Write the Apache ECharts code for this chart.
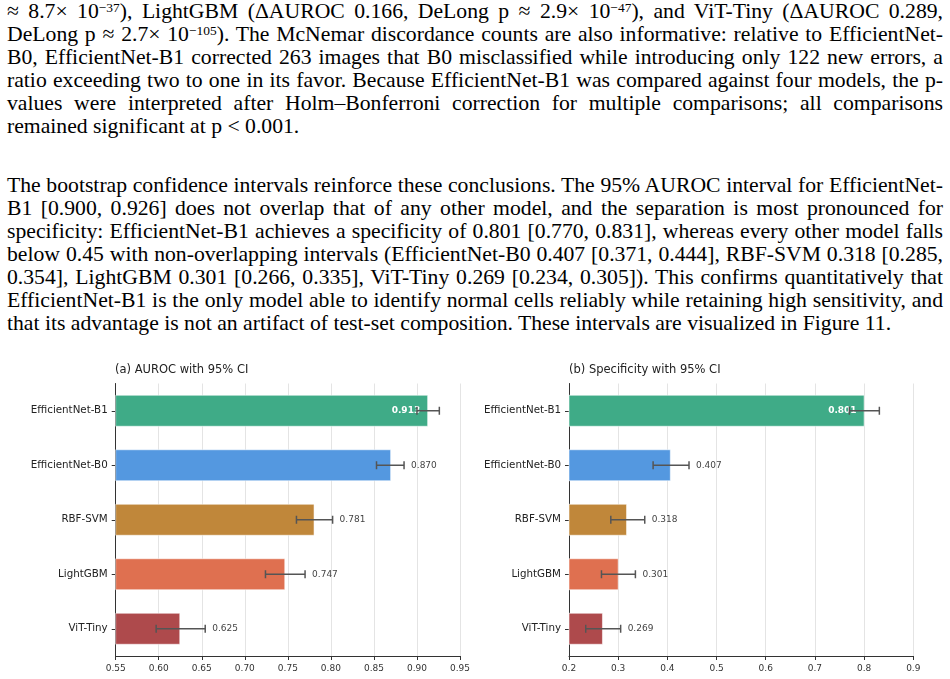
<!DOCTYPE html>
<html>
<head>
<meta charset="utf-8">
<script src="https://cdn.jsdelivr.net/npm/echarts@6/dist/echarts.min.js"></script>
<style>
html,body{margin:0;padding:0;background:#fff;width:950px;height:679px;overflow:hidden;}
#text{position:absolute;left:7px;top:0px;width:936px;font-family:"Liberation Serif","Times New Roman",serif;font-size:21.7px;line-height:23px;color:#000;}
.l{text-align:justify;text-align-last:justify;}
.e{text-align:left;text-align-last:left;}
.p2{margin-top:36px;}
sup{font-size:0.62em;line-height:0;vertical-align:0.48em;}
#chart{position:absolute;left:0;top:0;width:950px;height:679px;}
</style>
</head>
<body>
<div id="text">
  <div class="l">≈ 8.7× 10<sup>−37</sup>), LightGBM (ΔAUROC 0.166, DeLong p ≈ 2.9× 10<sup>−47</sup>), and ViT-Tiny (ΔAUROC 0.289,</div>
  <div class="l">DeLong p ≈ 2.7× 10<sup>−105</sup>). The McNemar discordance counts are also informative: relative to EfficientNet-</div>
  <div class="l">B0, EfficientNet-B1 corrected 263 images that B0 misclassified while introducing only 122 new errors, a</div>
  <div class="l">ratio exceeding two to one in its favor. Because EfficientNet-B1 was compared against four models, the p-</div>
  <div class="l">values were interpreted after Holm–Bonferroni correction for multiple comparisons; all comparisons</div>
  <div class="l e">remained significant at p &lt; 0.001.</div>
  <div class="l p2">The bootstrap confidence intervals reinforce these conclusions. The 95% AUROC interval for EfficientNet-</div>
  <div class="l">B1 [0.900, 0.926] does not overlap that of any other model, and the separation is most pronounced for</div>
  <div class="l">specificity: EfficientNet-B1 achieves a specificity of 0.801 [0.770, 0.831], whereas every other model falls</div>
  <div class="l">below 0.45 with non-overlapping intervals (EfficientNet-B0 0.407 [0.371, 0.444], RBF-SVM 0.318 [0.285,</div>
  <div class="l">0.354], LightGBM 0.301 [0.266, 0.335], ViT-Tiny 0.269 [0.234, 0.305]). This confirms quantitatively that</div>
  <div class="l">EfficientNet-B1 is the only model able to identify normal cells reliably while retaining high sensitivity, and</div>
  <div class="l e">that its advantage is not an artifact of test-set composition. These intervals are visualized in Figure 11.</div>
</div>
<div id="chart"></div>
<script>
const models = ['EfficientNet-B1', 'EfficientNet-B0', 'RBF-SVM', 'LightGBM', 'ViT-Tiny'];
const barColors = ['#3fab87', '#5498e0', '#c0873a', '#df7050', '#ae4a4c'];

const aurocValues = [0.913, 0.870, 0.781, 0.747, 0.625];
const aurocLow    = [0.900, 0.853, 0.760, 0.724, 0.597];
const aurocHigh   = [0.926, 0.885, 0.802, 0.770, 0.654];

const specValues = [0.801, 0.407, 0.318, 0.301, 0.269];
const specLow    = [0.770, 0.371, 0.285, 0.266, 0.234];
const specHigh   = [0.831, 0.444, 0.354, 0.335, 0.305];

const panelTitles = ['(a) AUROC with 95% CI', '(b) Specificity with 95% CI'];

const FONT = 'DejaVu Sans';
const chart = echarts.init(document.getElementById('chart'), null, {renderer: 'canvas'});

function barSeries(idx, vals) {
  return {
    type: 'bar', xAxisIndex: idx, yAxisIndex: idx, barWidth: 32, z: 2,
    data: vals.map((v, i) => ({value: v, itemStyle: {color: barColors[i]}})),
    itemStyle: {borderColor: 'rgba(255,255,255,0.55)', borderWidth: 1}
  };
}

function errSeries(idx, vals, lo, hi) {
  return {
    type: 'custom', xAxisIndex: idx, yAxisIndex: idx, z: 5,
    data: vals.map((v, i) => [i, v, lo[i], hi[i]]),
    renderItem: function (params, api) {
      const cat = api.value(0);
      const v = api.value(1);
      const pV = api.coord([v, cat]);
      const pLo = api.coord([api.value(2), cat]);
      const pHi = api.coord([api.value(3), cat]);
      const y = pV[1];
      const inside = params.dataIndex === 0;
      const stroke = {stroke: '#555555', lineWidth: 1.5};
      const label = inside ? {
        type: 'text', x: pV[0] - 8, y: y,
        style: {text: v.toFixed(3), fill: '#ffffff', fontSize: 9, fontWeight: 'bold', fontFamily: FONT, align: 'right', verticalAlign: 'middle'}
      } : {
        type: 'text', x: pHi[0] + 7, y: y,
        style: {text: v.toFixed(3), fill: '#444444', fontSize: 9, fontFamily: FONT, align: 'left', verticalAlign: 'middle'}
      };
      return {
        type: 'group',
        children: [
          label,
          {type: 'line', shape: {x1: pLo[0], y1: y, x2: pHi[0], y2: y}, style: stroke},
          {type: 'line', shape: {x1: pLo[0], y1: y - 4, x2: pLo[0], y2: y + 4}, style: stroke},
          {type: 'line', shape: {x1: pHi[0], y1: y - 4, x2: pHi[0], y2: y + 4}, style: stroke}
        ]
      };
    }
  };
}

function xAxisCfg(idx, min, max, interval, digits) {
  return {
    gridIndex: idx, type: 'value', min: min, max: max, interval: interval,
    axisLine: {show: true, lineStyle: {color: '#333333', width: 1}},
    axisTick: {show: true, length: 4, lineStyle: {color: '#333333'}},
    axisLabel: {fontSize: 9, color: '#333333', fontFamily: FONT, margin: 8, formatter: v => v.toFixed(digits)},
    splitLine: {show: true, lineStyle: {color: '#e4e4e4', width: 1}}
  };
}

function yAxisCfg(idx) {
  return {
    gridIndex: idx, type: 'category', data: models, inverse: true,
    axisLine: {show: true, lineStyle: {color: '#333333', width: 1}},
    axisTick: {show: true, alignWithLabel: true, length: 4, lineStyle: {color: '#333333'}},
    axisLabel: {fontSize: 10.3, color: '#222222', fontFamily: FONT, margin: 8},
    splitLine: {show: false}
  };
}

chart.setOption({
  animation: false,
  textStyle: {fontFamily: FONT},
  title: [
    {text: panelTitles[0], left: 115, top: 364, textStyle: {fontSize: 11.5, fontWeight: 'normal', color: '#222222', fontFamily: FONT}, padding: 0},
    {text: panelTitles[1], left: 569, top: 364, textStyle: {fontSize: 11.5, fontWeight: 'normal', color: '#222222', fontFamily: FONT}, padding: 0}
  ],
  grid: [
    {left: 115.7, top: 383.5, width: 344.3, height: 272.5},
    {left: 569, top: 383.5, width: 344.3, height: 272.5}
  ],
  xAxis: [xAxisCfg(0, 0.55, 0.95, 0.05, 2), xAxisCfg(1, 0.2, 0.9, 0.1, 1)],
  yAxis: [yAxisCfg(0), yAxisCfg(1)],
  series: [
    barSeries(0, aurocValues),
    errSeries(0, aurocValues, aurocLow, aurocHigh),
    barSeries(1, specValues),
    errSeries(1, specValues, specLow, specHigh)
  ]
});
</script>
</body>
</html>
